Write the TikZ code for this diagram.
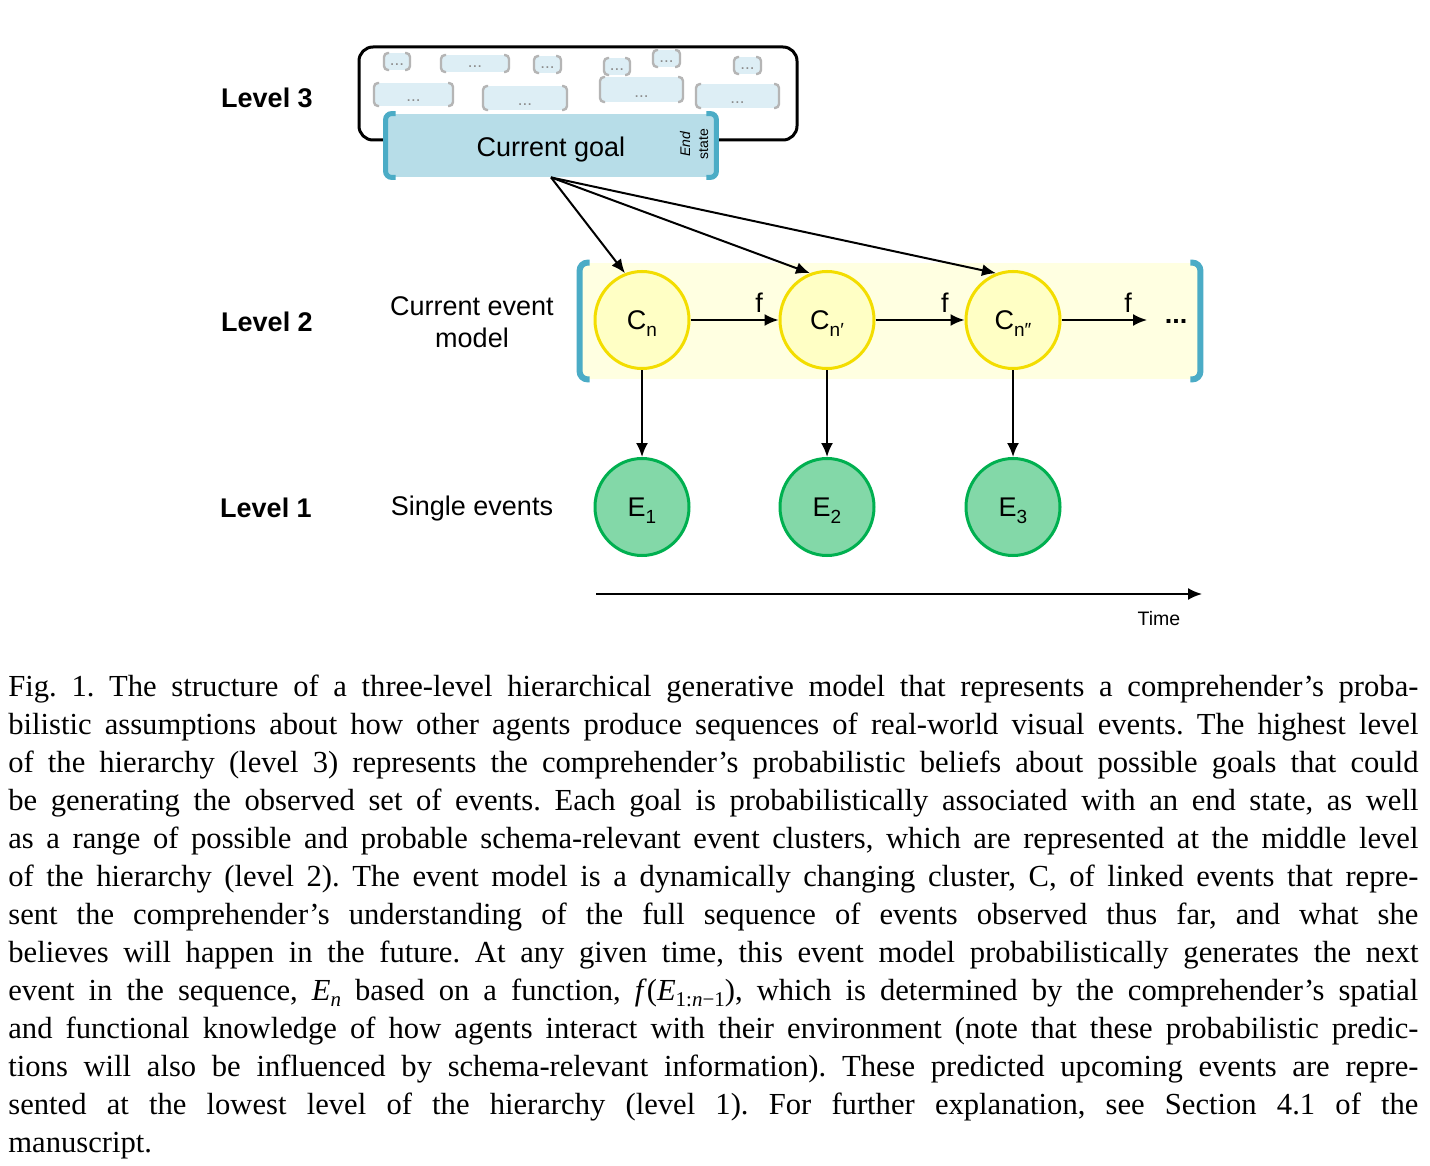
\documentclass[tikz,border=0pt]{standalone}
\usepackage{fontspec}
\setmainfont{Liberation Serif}
\newfontfamily\arialf{Liberation Sans}
\usetikzlibrary{arrows.meta,shapes.geometric}
\frenchspacing
\definecolor{brblue}{HTML}{4BACC6}
\definecolor{goalfill}{HTML}{B7DDE8}
\definecolor{minifill}{HTML}{DDEEF5}
\definecolor{minigray}{HTML}{B5B5B5}
\definecolor{dotgray}{HTML}{8C8C8C}
\definecolor{bandfill}{HTML}{FFFFE1}
\definecolor{cfill}{HTML}{FFFFC5}
\definecolor{cline}{HTML}{F3DD00}
\definecolor{efill}{HTML}{83D8A8}
\definecolor{eline}{HTML}{00B050}
\newcommand\lowsub[1]{\raisebox{-3.5pt}{\fontsize{9.5}{10}\selectfont #1}}
\newcommand\capsub[1]{\raisebox{-3pt}{\fontsize{10.5}{11}\selectfont #1}}
\newcommand\dotbox[4]{%
  \fill[minifill] (#1+1,#2) rectangle (#3-1,#4);
  \draw[minibr] (#1+5,#2) -- (#1,#2) -- (#1,#4) -- (#1+5,#4);
  \draw[minibr] (#3-5,#2) -- (#3,#2) -- (#3,#4) -- (#3-5,#4);
  \node[dotsty] (dots#1) at ({(#1+#3)/2},#4-4) {...};}
\begin{document}
\frenchspacing
\begin{tikzpicture}[x=0.5pt,y=-0.5pt,
  arr/.style={-{Latex[length=7pt,width=6pt]}, line width=1pt},
  lvl/.style={font=\arialf\bfseries\fontsize{13.5}{16}\selectfont, inner sep=0},
  side/.style={font=\arialf\fontsize{13.5}{16}\selectfont, inner sep=0, align=center},
  cnode/.style={ellipse, draw=cline, fill=cfill, line width=1.5pt, minimum width=47pt, minimum height=48.5pt, inner sep=0, text height=9.7pt, text depth=0pt, font=\arialf\fontsize{13.5}{16}\selectfont},
  enode/.style={cnode, draw=eline, fill=efill},
  frame3/.style={draw, line width=1.5pt, rounded corners=7pt, minimum width=219pt, minimum height=46.5pt, inner sep=0},
  goalbox/.style={rectangle, fill=goalfill, minimum width=165pt, minimum height=31.5pt, inner sep=0, text height=11pt, text depth=0pt, font=\arialf\fontsize{13.5}{16}\selectfont},
  bandbox/.style={rectangle, fill=bandfill, minimum width=310pt, minimum height=58pt, inner sep=0},
  goalbr/.style={draw=brblue, line width=2.5pt, rounded corners=3pt},
  bandbr/.style={draw=brblue, line width=3pt, rounded corners=4pt},
  minibr/.style={draw=minigray, line width=1.2pt, rounded corners=2pt},
  dotsty/.style={anchor=base, inner sep=0, text=dotgray, font=\arialf\fontsize{8.5}{9}\selectfont},
  flabel/.style={font=\arialf\fontsize{13.5}{16}\selectfont, inner sep=0, above=3pt, pos=0.78},
  capline/.style={anchor=base west, inner sep=0, font=\fontsize{15.3}{18}\selectfont}
]
\useasboundingbox (0,0) rectangle (1430,1166);
\fill[white] (0,0) rectangle (1430,1166);

% Level 3
\node[frame3] (frame) at (578,93.5) {};
\dotbox{384}{53}{410}{70}
\dotbox{441}{55}{509}{72}
\dotbox{534}{56}{561}{73}
\dotbox{604}{58}{630}{75}
\dotbox{653}{50}{680}{67}
\dotbox{734}{57}{761}{74}
\dotbox{374}{83}{453}{106}
\dotbox{483}{86}{567}{110}
\dotbox{600}{77}{683}{102}
\dotbox{696}{84}{779}{108}
\node[goalbox] (goal) at (551,145.5) {Current goal};
\draw[goalbr] ([xshift=5pt]goal.north west) -- (goal.north west) -- (goal.south west) -- ([xshift=5pt]goal.south west);
\draw[goalbr] ([xshift=-5pt]goal.north east) -- (goal.north east) -- (goal.south east) -- ([xshift=-5pt]goal.south east);
\node[rotate=90, align=center, inner sep=0, font=\arialf\fontsize{7}{9}\selectfont] (endst) at (694,144) {\textit{End}\\state};

% Level 2 band
\node[bandbox] (band) at (890,321) {};
\draw[bandbr] ([xshift=5pt]band.north west) -- (band.north west) -- (band.south west) -- ([xshift=5pt]band.south west);
\draw[bandbr] ([xshift=-5pt]band.north east) -- (band.north east) -- (band.south east) -- ([xshift=-5pt]band.south east);

\node[cnode] (c1) at (642,320) {C\lowsub{n}};
\node[cnode] (c2) at (827,320) {C\lowsub{n′}};
\node[cnode] (c3) at (1013,320) {C\lowsub{n″}};
\node[anchor=base, inner sep=0, font=\arialf\bfseries\fontsize{13.5}{16}\selectfont] (more) at (1176,323) {...};
\coordinate (fend) at (1147,320);

\node[enode] (e1) at (642,507) {E\lowsub{1}};
\node[enode] (e2) at (827,507) {E\lowsub{2}};
\node[enode] (e3) at (1013,507) {E\lowsub{3}};

\draw[arr] (c1.east) -- (c2.west) node[flabel] (f1) {f};
\draw[arr] (c2.east) -- (c3.west) node[flabel] (f2) {f};
\draw[arr] (c3.east) -- (fend) node[flabel] (f3) {f};

\draw[arr] (c1.south) -- (e1.north);
\draw[arr] (c2.south) -- (e2.north);
\draw[arr] (c3.south) -- (e3.north);

\draw[arr] (goal.south) -- (c1.110);
\draw[arr] (goal.south) -- (c2.110);
\draw[arr] (goal.south) -- (c3.110);

% labels
\node[lvl] (l3) at (267,98) {Level 3};
\node[lvl] (l2) at (267,322) {Level 2};
\node[lvl] (l1) at (266,508) {Level 1};
\node[side] (cem) at (472,322) {Current event\\model};
\node[side] (sev) at (472,509) {Single events};

% time
\coordinate (t0) at (596,594);
\coordinate (t1) at (1202,594);
\draw[arr] (t0) -- (t1);
\node[inner sep=0, font=\arialf\fontsize{9.75}{12}\selectfont] (time) at (1159,619) {Time};

% caption
\node[capline] (cap1) at (8,696) {\makebox[705pt][s]{Fig. 1. The structure of a three-level hierarchical generative model that represents a comprehender’s proba-}};
\node[capline] (cap2) at (8,734) {\makebox[705pt][s]{bilistic assumptions about how other agents produce sequences of real-world visual events. The highest level}};
\node[capline] (cap3) at (8,772) {\makebox[705pt][s]{of the hierarchy (level 3) represents the comprehender’s probabilistic beliefs about possible goals that could}};
\node[capline] (cap4) at (8,810) {\makebox[705pt][s]{be generating the observed set of events. Each goal is probabilistically associated with an end state, as well}};
\node[capline] (cap5) at (8,848) {\makebox[705pt][s]{as a range of possible and probable schema-relevant event clusters, which are represented at the middle level}};
\node[capline] (cap6) at (8,886) {\makebox[705pt][s]{of the hierarchy (level 2). The event model is a dynamically changing cluster, C, of linked events that repre-}};
\node[capline] (cap7) at (8,924) {\makebox[705pt][s]{sent the comprehender’s understanding of the full sequence of events observed thus far, and what she}};
\node[capline] (cap8) at (8,962) {\makebox[705pt][s]{believes will happen in the future. At any given time, this event model probabilistically generates the next}};
\node[capline] (cap9) at (8,1000) {\makebox[705pt][s]{event in the sequence, \textit{E}\capsub{\textit{n}} based on a function, \textit{f}(\textit{E}\capsub{1:\textit{n}−1}), which is determined by the comprehender’s spatial}};
\node[capline] (cap10) at (8,1038) {\makebox[705pt][s]{and functional knowledge of how agents interact with their environment (note that these probabilistic predic-}};
\node[capline] (cap11) at (8,1076) {\makebox[705pt][s]{tions will also be influenced by schema-relevant information). These predicted upcoming events are repre-}};
\node[capline] (cap12) at (8,1114) {\makebox[705pt][s]{sented at the lowest level of the hierarchy (level 1). For further explanation, see Section 4.1 of the}};
\node[capline] (cap13) at (8,1152) {manuscript.};
\end{tikzpicture}
\end{document}
